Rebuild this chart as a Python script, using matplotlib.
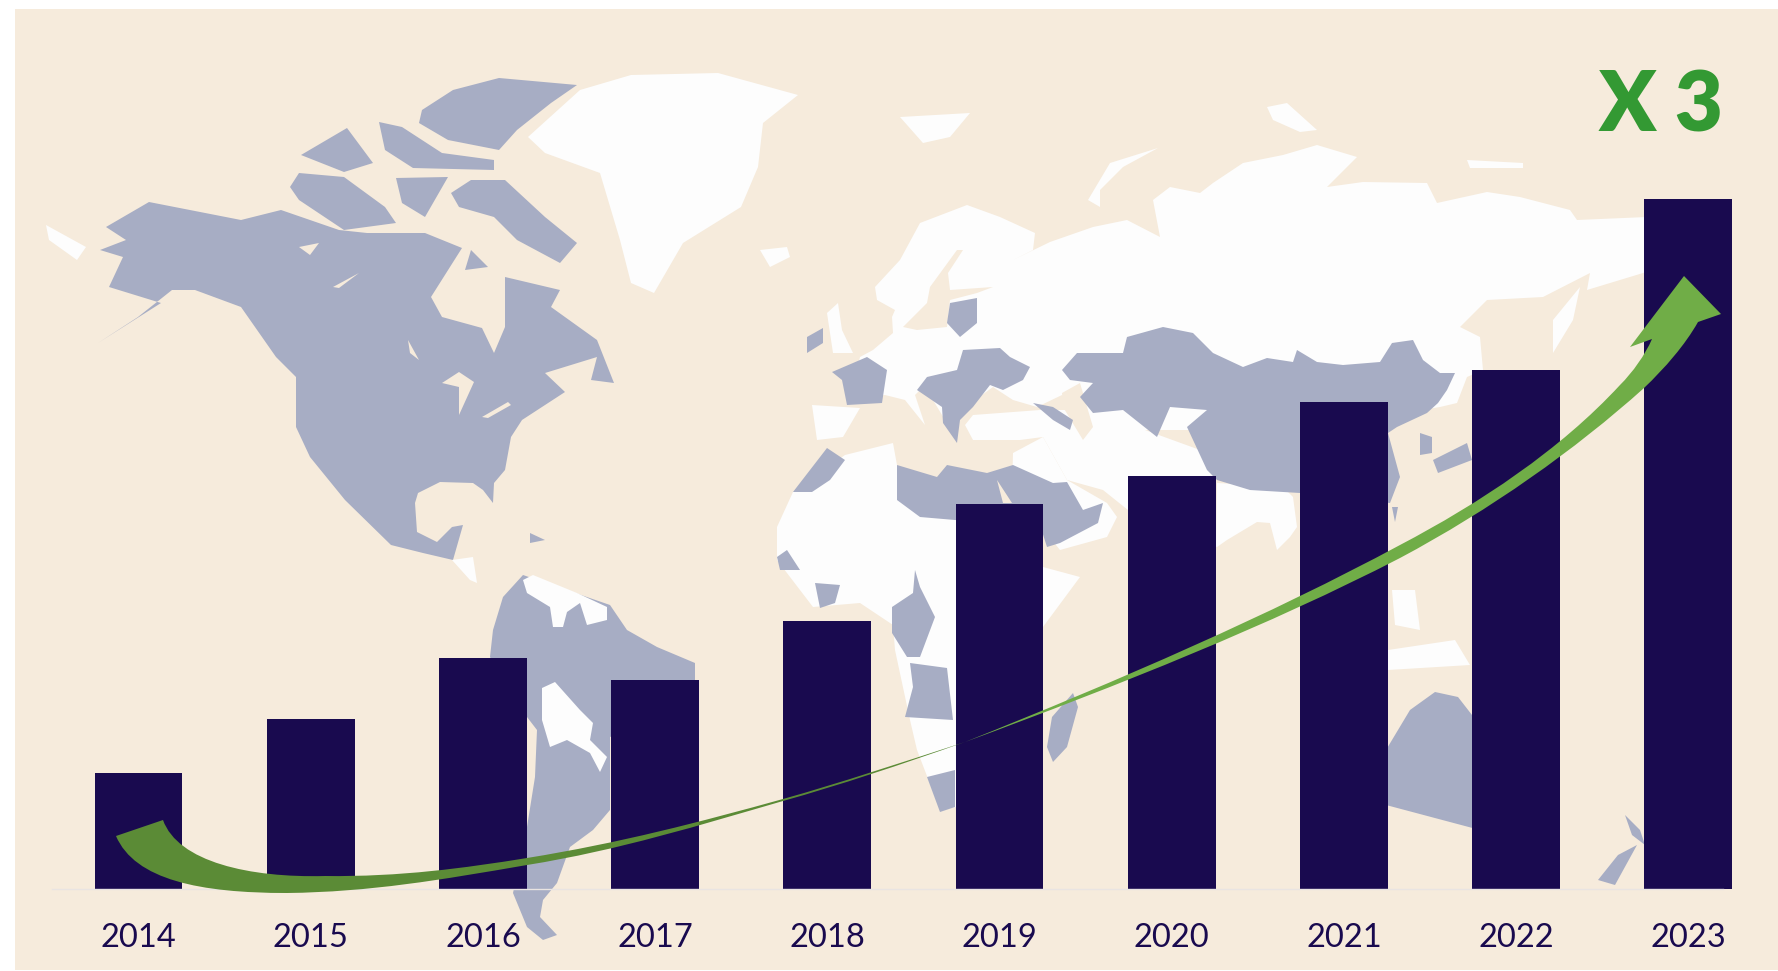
import matplotlib
matplotlib.use('Agg')
import matplotlib.pyplot as plt
from matplotlib.patches import Polygon, PathPatch, Rectangle
from matplotlib.path import Path

years = ['2014', '2015', '2016', '2017', '2018', '2019', '2020', '2021', '2022', '2023']
values = [116, 169.5, 230.5, 209, 268, 384.5, 413, 486.5, 519, 689.5]

BEIGE = '#F6EBDC'
BLUE = '#A7ADC4'
WHITE = '#FDFDFD'
NAVY = '#190A4F'

# rough map outlines, in picture pixels
white_land = [
    # greenland, iceland, chukotka
    [(528, 137), (580, 90), (631, 75), (718, 73), (798, 95), (763, 123), (758, 167), (741, 207), (683, 243), (654, 293), (631, 283), (620, 240), (600, 173), (545, 153)],
    [(760, 250), (787, 247), (790, 257), (770, 267)],
    [(46, 225), (86, 247), (77, 260), (49, 240)],
    # arctic islands
    [(900, 117), (970, 113), (950, 137), (923, 143)],
    [(1158, 148), (1110, 163), (1088, 200), (1100, 207), (1100, 190), (1123, 167)],
    [(1267, 107), (1287, 103), (1317, 130), (1300, 132), (1273, 120)],
    [(1467, 160), (1523, 163), (1523, 168), (1470, 168)],
    [(1580, 287), (1573, 320), (1553, 353), (1553, 320)],
    # europe and russia
    [(875, 287), (900, 260), (920, 223), (967, 205), (1000, 217), (1035, 233), (1033, 250), (1013, 260), (1050, 242), (1093, 227), (1127, 220), (1160, 237), (1153, 200), (1170, 187), (1200, 193), (1213, 183), (1243, 163), (1283, 155), (1317, 145), (1357, 157), (1327, 187), (1363, 182), (1427, 183), (1437, 203), (1487, 192), (1520, 197), (1570, 210), (1577, 220), (1647, 217), (1700, 217), (1700, 250), (1643, 273), (1587, 290), (1590, 273), (1543, 297), (1487, 300), (1460, 327), (1480, 337), (1483, 370), (1467, 377), (1457, 403), (1440, 407), (1300, 430), (1100, 430), (1062, 395), (1037, 407), (1013, 400), (993, 387), (975, 400), (945, 420), (930, 395), (925, 385), (915, 395), (925, 425), (905, 400), (885, 395), (850, 400), (860, 357), (873, 350), (893, 333), (892, 317), (895, 310), (877, 300)],
    [(827, 313), (838, 303), (842, 330), (853, 353), (833, 353)],
    [(812, 405), (860, 408), (843, 437), (817, 440)],
    # turkey to pakistan, nepal, burma
    [(973, 415), (1040, 410), (1095, 410), (1145, 430), (1200, 450), (1216, 483), (1217, 547), (1128, 510), (1103, 490), (1067, 480), (1043, 437), (1020, 440), (973, 440), (965, 425)],
    [(1013, 453), (1043, 437), (1067, 480), (1107, 503), (1117, 517), (1107, 537), (1060, 550), (1012, 490)],
    [(1217, 483), (1283, 487), (1293, 497), (1297, 527), (1290, 537), (1277, 550), (1270, 523), (1257, 522), (1227, 540), (1217, 547)],
    # africa
    [(793, 492), (777, 527), (777, 560), (813, 607), (860, 603), (893, 625), (895, 650), (910, 720), (917, 750), (940, 810), (957, 807), (1043, 627), (1080, 577), (1043, 567), (1000, 560), (955, 510), (897, 465), (893, 443), (845, 455)],
    # se asia
    [(1388, 650), (1455, 640), (1470, 665), (1388, 670)],
    [(1392, 590), (1415, 590), (1420, 630), (1395, 625)],
]
sea_patches = [
    [(930, 287), (957, 250), (963, 250), (948, 273), (950, 290), (993, 287), (977, 293), (950, 300), (947, 327), (917, 330), (903, 327), (927, 303)],
    [(1062, 393), (1080, 383), (1093, 427), (1083, 440), (1063, 407)],
]
blue_land = [
    # north america
    [(106, 227), (149, 202), (241, 220), (281, 210), (339, 230), (367, 233), (425, 233), (462, 248), (431, 297), (442, 317), (482, 328), (494, 353), (505, 327), (505, 293), (505, 277), (560, 290), (551, 307), (597, 340), (614, 383), (591, 380), (597, 357), (545, 373), (565, 392), (522, 420), (511, 437), (505, 470), (494, 483), (493, 503), (483, 490), (473, 483), (440, 482), (418, 493), (415, 503), (417, 532), (437, 542), (452, 527), (463, 525), (453, 560), (423, 553), (391, 545), (345, 500), (310, 457), (296, 427), (296, 377), (276, 357), (241, 307), (195, 290), (172, 290), (138, 317), (98, 343), (161, 303), (109, 287), (123, 257), (100, 250), (126, 240)],
    [(422, 110), (453, 90), (499, 78), (577, 85), (551, 103), (517, 130), (499, 150), (448, 140), (419, 123)],
    [(451, 193), (471, 180), (505, 180), (545, 217), (577, 243), (560, 263), (517, 240), (494, 217), (459, 207)],
    [(290, 187), (299, 173), (344, 177), (385, 207), (396, 223), (344, 230), (299, 200)],
    [(396, 178), (448, 177), (425, 217), (402, 203)],
    [(301, 155), (347, 128), (373, 163), (344, 172)],
    [(379, 122), (402, 127), (442, 153), (494, 160), (494, 170), (413, 168), (385, 150)],
    [(471, 250), (488, 267), (465, 270)],
    [(530, 533), (545, 540), (530, 543)],
    # south america
    [(503, 597), (523, 575), (610, 605), (627, 630), (657, 647), (695, 663), (695, 680), (670, 713), (610, 737), (610, 810), (593, 830), (570, 847), (557, 883), (543, 900), (540, 917), (557, 935), (543, 940), (527, 927), (513, 893), (527, 827), (535, 777), (537, 730), (527, 717), (490, 657), (493, 630)],
    # europe
    [(807, 337), (823, 328), (823, 343), (807, 353)],
    [(832, 372), (867, 357), (887, 370), (882, 403), (847, 405), (842, 380)],
    [(950, 303), (977, 298), (977, 323), (960, 337), (947, 323)],
    [(963, 350), (1000, 348), (1010, 357), (1030, 367), (1023, 380), (1003, 390), (990, 385), (973, 407), (960, 420), (957, 443), (943, 423), (942, 407), (917, 390), (927, 377), (957, 370)],
    [(1033, 403), (1053, 407), (1073, 420), (1070, 430), (1053, 420)],
    # kazakhstan and china
    [(1062, 370), (1077, 353), (1123, 353), (1127, 337), (1163, 327), (1193, 333), (1213, 353), (1243, 367), (1267, 358), (1293, 362), (1297, 350), (1317, 362), (1343, 365), (1380, 362), (1392, 343), (1413, 340), (1423, 360), (1440, 373), (1455, 373), (1447, 390), (1438, 403), (1427, 413), (1397, 427), (1388, 433), (1400, 477), (1390, 503), (1300, 493), (1250, 490), (1217, 480), (1207, 470), (1187, 427), (1207, 410), (1170, 407), (1157, 437), (1123, 410), (1093, 413), (1080, 397), (1093, 383), (1070, 380)],
    [(1467, 443), (1433, 460), (1438, 473), (1472, 460)],
    [(1420, 433), (1432, 437), (1432, 453), (1420, 455)],
    [(1392, 507), (1398, 507), (1395, 522)],
    # africa and arabia
    [(793, 492), (810, 470), (827, 448), (845, 460), (830, 480), (812, 492)],
    [(897, 465), (937, 477), (947, 465), (987, 473), (1013, 465), (1053, 483), (1067, 482), (1083, 510), (1103, 503), (1098, 523), (1060, 543), (1047, 547), (1040, 525), (955, 520), (920, 517), (897, 500)],
    [(777, 557), (787, 550), (800, 570), (780, 570)],
    [(815, 583), (840, 585), (835, 603), (820, 608)],
    [(915, 570), (920, 587), (935, 617), (920, 657), (907, 657), (892, 633), (892, 607), (913, 593)],
    [(910, 663), (947, 668), (953, 720), (905, 717), (913, 687)],
    [(927, 777), (955, 770), (955, 807), (940, 812)],
    [(1073, 693), (1078, 707), (1067, 747), (1053, 762), (1047, 747), (1052, 717)],
    # australia, new zealand
    [(1386, 750), (1410, 710), (1435, 692), (1458, 697), (1472, 715), (1560, 740), (1560, 820), (1480, 830), (1386, 805)],
    [(1598, 880), (1618, 855), (1637, 845), (1615, 885)],
    [(1625, 815), (1640, 830), (1645, 845), (1632, 835)],
]
white_on_blue = [
    [(523, 580), (533, 575), (577, 593), (607, 607), (607, 620), (587, 625), (580, 603), (567, 612), (563, 627), (553, 627), (550, 607), (527, 593)],
    [(542, 688), (555, 682), (580, 710), (593, 723), (590, 740), (607, 757), (600, 772), (590, 753), (567, 740), (550, 747), (542, 720)],
    [(452, 560), (473, 557), (477, 583), (470, 580)],
]
lakes = [
    [(442, 383), (459, 372), (474, 382), (459, 415), (459, 387)],
    [(482, 417), (508, 402), (511, 405), (488, 418)],
    [(408, 340), (419, 360), (410, 353)],
    [(299, 247), (319, 243), (310, 255)],
    [(333, 287), (359, 273), (339, 288)],
    [(997, 480), (1012, 503), (1003, 503)],
]

fig = plt.figure(figsize=(17.78, 9.71), dpi=100)
fig.patch.set_facecolor('white')

# background and map
bg = fig.add_axes([0, 0, 1, 1])
bg.set_xlim(0, 1778)
bg.set_ylim(971, 0)
bg.axis('off')
bg.add_patch(Rectangle((15, 9), 1763, 961, color=BEIGE, lw=0))
for group, col in [(white_land, WHITE), (sea_patches, BEIGE), (blue_land, BLUE), (white_on_blue, WHITE), (lakes, BEIGE)]:
    for pts in group:
        bg.add_patch(Polygon(pts, color=col, lw=0))

# bars
ax = fig.add_axes([52.4 / 1778, (971 - 888.5) / 971, 1722 / 1778, 880 / 971])
ax.patch.set_alpha(0)
ax.bar(range(len(years)), values, width=0.511, color=NAVY)
ax.set_xlim(-0.5, 9.5)
ax.set_ylim(0, 880)
ax.set_yticks([])
ax.set_xticks(range(len(years)))
ax.set_xticklabels(years, family='Lato', fontsize=23.5, color=NAVY)
ax.tick_params(axis='x', length=0, pad=25)
for s in ['top', 'left', 'right']:
    ax.spines[s].set_visible(False)
ax.spines['bottom'].set_color('#E9E4E2')
ax.spines['bottom'].set_linewidth(1)
ax.spines['bottom'].set_bounds(-0.5, 9.2)

# arrow on top
top = fig.add_axes([0, 0, 1, 1])
top.set_xlim(0, 1778)
top.set_ylim(971, 0)
top.axis('off')
M, C, L, Z = Path.MOVETO, Path.CURVE4, Path.LINETO, Path.CLOSEPOLY
tail = [(163, 820), (178, 862), (250, 878), (325, 876), (400, 877), (465, 868), (527, 858),
        (620, 843), (700, 822), (783, 799), (840, 783), (900, 763), (965, 742),
        (900, 765), (840, 785), (783, 801), (700, 825), (620, 850), (527, 865),
        (440, 880), (370, 892), (287, 893), (200, 893), (135, 880), (116, 836), (163, 820)]
tail_codes = [M] + [C] * 24 + [Z]
top.add_patch(PathPatch(Path(tail, tail_codes), fc='#5B8B36', lw=0))
head = [(965, 742), (1120, 680), (1270, 615), (1400, 545), (1480, 503), (1560, 450), (1620, 385),
        (1633, 372), (1645, 355), (1652, 339),
        (1630, 347), (1684, 276), (1721, 314), (1698, 322),
        (1685, 345), (1665, 368), (1644, 388), (1575, 450), (1490, 510), (1400, 558),
        (1270, 625), (1120, 685), (965, 742), (965, 742)]
head_codes = [M] + [C] * 9 + [L] * 4 + [C] * 9 + [Z]
top.add_patch(PathPatch(Path(head, head_codes), fc='#70AD47', lw=0))
top.text(1661, 132, 'X 3', family='Lato', fontweight='heavy', fontsize=60, color='#339933',
         ha='center', va='baseline')

fig.savefig('out.png', dpi=100)
